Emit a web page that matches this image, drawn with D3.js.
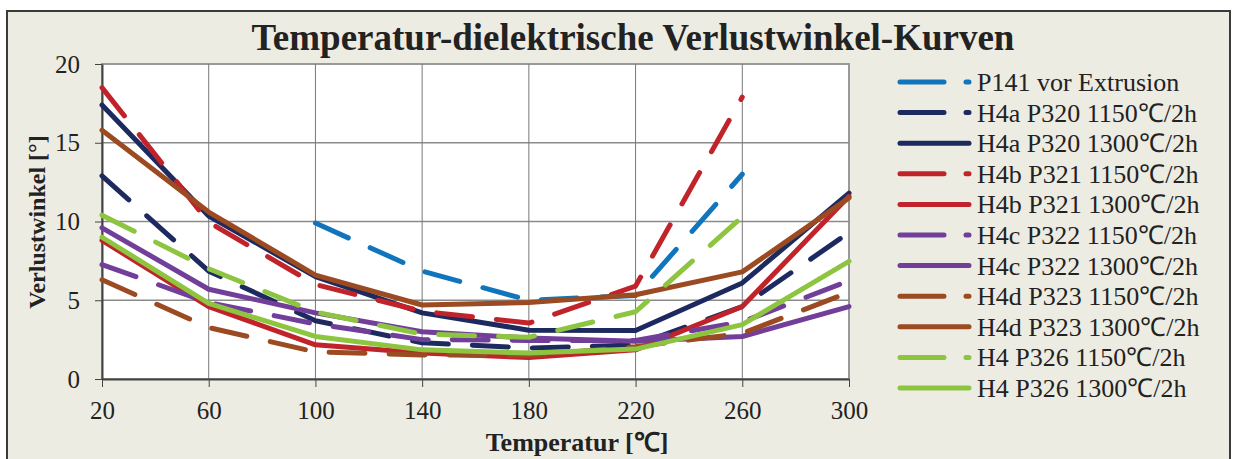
<!DOCTYPE html>
<html lang="de">
<head>
<meta charset="UTF-8">
<title>Verlustwinkel</title>
<script src="https://d3js.org/d3.v7.min.js"></script>
<style>
  html, body { margin: 0; padding: 0; background: #fff; }
  svg { display: block; font-family: "Liberation Serif", "Times New Roman", serif; }
</style>
</head>
<body>
<svg id="chart"></svg>
<script>
    const width = 1234;
    const height = 459;

    // temperatures (x) and tick values
    var temps = [20, 60, 100, 140, 180, 220, 260, 300];
    var xTicks = [20, 60, 100, 140, 180, 220, 260, 300];
    var yTicks = [0, 5, 10, 15, 20];

    // loss angle values per sample
    var p141      = [null, null, 9.9, 6.85, 5.0, 5.3, 13.0, null];
    var h4a1150   = [12.9, 6.85, 3.7, 2.3, 1.97, 2.15, 4.6, 9.3];
    var h4a1300   = [17.4, 10.35, 6.5, 4.2, 3.1, 3.08, 6.1, 11.8];
    var h4b1150   = [18.5, 9.95, 6.0, 4.3, 3.55, 5.9, 17.9, null];
    var h4b1300   = [8.8, 4.6, 2.17, 1.65, 1.36, 1.85, 4.6, 11.6];
    var h4c1150   = [7.26, 4.85, 3.5, 2.5, 2.45, 2.45, 3.63, 6.24];
    var h4c1300   = [9.6, 5.7, 4.2, 3.0, 2.6, 2.4, 2.7, 4.6];
    var h4d1150   = [6.3, 3.27, 1.72, 1.53, 1.5, 2.05, 2.9, 5.5];
    var h4d1300   = [15.8, 10.6, 6.6, 4.7, 4.86, 5.35, 6.8, 11.5];
    var p326_1150 = [10.4, 7.0, 4.25, 2.85, 2.65, 4.27, 10.3, null];
    var p326_1300 = [9.0, 4.8, 2.7, 1.85, 1.65, 1.9, 3.45, 7.47];

    var names = ["P141 vor Extrusion",
        "H4a P320 1150℃/2h", "H4a P320 1300℃/2h",
        "H4b P321 1150℃/2h", "H4b P321 1300℃/2h",
        "H4c P322 1150℃/2h", "H4c P322 1300℃/2h",
        "H4d P323 1150℃/2h", "H4d P323 1300℃/2h",
        "H4 P326 1150℃/2h", "H4 P326 1300℃/2h"];
    var values = [p141, h4a1150, h4a1300, h4b1150, h4b1300, h4c1150, h4c1300,
        h4d1150, h4d1300, p326_1150, p326_1300];

    var colorMap = {P141: "#1175bd", H4a: "#1d2a5f", H4b: "#c1232b", H4c: "#713e9a", H4d: "#9b4a22", H4: "#8dc540"};
    var dashed = [true, true, false, true, false, true, false, true, false, true, false];

    var series = names.map((n, i) => ({
        name: n,
        color: colorMap[n.split(" ")[0]],
        dashed: dashed[i],
        values: values[i]
    }));

    const svg = d3.select("#chart")
        .attr("width", width)
        .attr("height", height);

    // beige frame
    svg.append("rect")
        .attr("x", 7).attr("y", 11)
        .attr("width", 1223).attr("height", 470)
        .attr("fill", "#edece2")
        .attr("stroke", "#3a3a3a")
        .attr("stroke-width", 2);

    const x = d3.scaleLinear().domain([20, 300]).range([102, 849]);
    const y = d3.scaleLinear().domain([0, 20]).range([379, 64]);

    // plot area
    svg.append("rect")
        .attr("x", x(20)).attr("y", y(20))
        .attr("width", x(300) - x(20)).attr("height", y(0) - y(20))
        .attr("fill", "#fff")
        .attr("stroke", "#999")
        .attr("stroke-width", 2);

    // grid
    svg.append("g")
        .selectAll("line")
        .data(yTicks.slice(1, -1))
        .join("line")
        .attr("x1", x(20)).attr("x2", x(300))
        .attr("y1", d => y(d)).attr("y2", d => y(d))
        .attr("stroke", "#8a8a8a")
        .attr("stroke-width", 1.5);

    svg.append("g")
        .selectAll("line")
        .data(xTicks.slice(1, -1))
        .join("line")
        .attr("x1", d => x(d)).attr("x2", d => x(d))
        .attr("y1", y(0)).attr("y2", y(20))
        .attr("stroke", "#777")
        .attr("stroke-width", 1);

    // axes
    const xAxis = g => g
        .attr("transform", `translate(0,${y(0)})`)
        .call(d3.axisBottom(x).tickValues(xTicks).tickSize(8).tickPadding(14).tickSizeOuter(0))
        .attr("font-family", null)
        .attr("font-size", null)
        .call(g => g.selectAll("text").attr("font-size", 25).attr("fill", "#222"))
        .call(g => g.selectAll("line").attr("stroke", "#444"))
        .call(g => g.select(".domain").attr("stroke", "#444").attr("stroke-width", 2));

    const yAxis = g => g
        .attr("transform", `translate(${x(20)},0)`)
        .call(d3.axisLeft(y).tickValues(yTicks).tickSize(7).tickPadding(15).tickSizeOuter(0))
        .attr("font-family", null)
        .attr("font-size", null)
        .call(g => g.selectAll("text").attr("font-size", 25).attr("fill", "#222"))
        .call(g => g.selectAll("line").attr("stroke", "#444"))
        .call(g => g.select(".domain").attr("stroke", "#444").attr("stroke-width", 2));

    svg.append("g").call(xAxis);
    svg.append("g").call(yAxis);

    // lines
    const line = d3.line()
        .defined(d => d != null)
        .x((d, i) => x(temps[i]))
        .y(d => y(d));

    svg.append("g")
        .attr("fill", "none")
        .attr("stroke-width", 5)
        .attr("stroke-linejoin", "round")
        .attr("stroke-linecap", "round")
        .selectAll("path")
        .data(series)
        .join("path")
        .attr("stroke", d => d.color)
        .attr("stroke-dasharray", d => d.dashed ? "36,24" : null)
        .attr("d", d => line(d.values));

    // title
    svg.append("text")
        .attr("x", 633).attr("y", 50)
        .attr("text-anchor", "middle")
        .attr("font-size", 37)
        .attr("font-weight", "bold")
        .attr("fill", "#222")
        .text("Temperatur-dielektrische Verlustwinkel-Kurven");

    // axis titles
    svg.append("text")
        .attr("x", 577).attr("y", 451)
        .attr("text-anchor", "middle")
        .attr("font-size", 26)
        .attr("font-weight", "bold")
        .attr("fill", "#222")
        .text("Temperatur [℃]");

    svg.append("text")
        .attr("transform", "translate(45,222) rotate(-90)")
        .attr("text-anchor", "middle")
        .attr("font-size", 24)
        .attr("font-weight", "bold")
        .attr("fill", "#222")
        .text("Verlustwinkel [°]");

    // legend
    const legend = svg.append("g")
        .selectAll("g")
        .data(series)
        .join("g")
        .attr("transform", (d, i) => `translate(900,${82 + i * 30.6})`);

    legend.append("line")
        .attr("x1", 0).attr("x2", 69)
        .attr("stroke", d => d.color)
        .attr("stroke-width", 5)
        .attr("stroke-linecap", "round")
        .attr("stroke-dasharray", d => d.dashed ? "44,22" : null);

    legend.append("text")
        .attr("x", 77).attr("y", 9)
        .attr("font-size", 26)
        .attr("fill", "#222")
        .text(d => d.name);
</script>
</body>
</html>
